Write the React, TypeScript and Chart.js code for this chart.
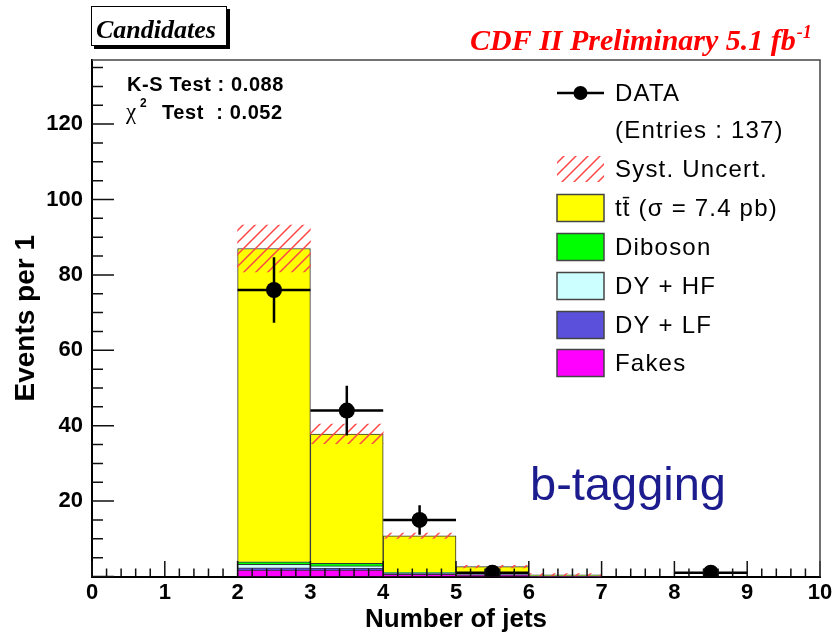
import React, { useEffect, useRef } from 'react';
import { Chart, registerables } from 'chart.js';

Chart.register(...registerables);

// Jet-multiplicity histogram: bins of width 1 from 0 to 10
const binWidth = 1;
const binCenters = [0.5, 1.5, 2.5, 3.5, 4.5, 5.5, 6.5, 7.5, 8.5, 9.5];

// Stacked background / signal expectations (events per bin), bottom to top
const fakes = [0, 0, 1.7, 1.7, 0.6, 0.3, 0.05, 0, 0, 0];
const dyLF = [0, 0, 0.6, 0.5, 0.2, 0.2, 0.05, 0, 0, 0];
const dyHF = [0, 0, 0.9, 0.6, 0.2, 0.2, 0.05, 0, 0, 0];
const diboson = [0, 0, 0.7, 0.7, 0.1, 0.15, 0.05, 0, 0, 0];
const ttbar = [0, 0, 83.1, 34.3, 9.7, 1.75, 0.25, 0, 0, 0];

// Systematic uncertainty on the total expectation (half-width of band)
const systUnc = [0, 0, 6.2, 2.6, 0.7, 0.35, 0.3, 0, 0, 0];

// Observed candidates with their statistical errors
const dataX = [2.5, 3.5, 4.5, 5.5, 8.5];
const dataY = [76, 44, 15, 1, 1];
const dataErr = [8.7, 6.6, 3.9, 1.0, 1.0];

const xTicks = [0, 1, 2, 3, 4, 5, 6, 7, 8, 9, 10];
const yTicks = [20, 40, 60, 80, 100, 120];

const COLORS = {
  ttbar: '#ffff00',
  diboson: '#00ff00',
  dyHF: '#ccffff',
  dyLF: '#5a50dc',
  fakes: '#ff00ff',
  hatch: 'rgb(255,70,70)',
  edge: '#333333',
};

const SANS = '"Liberation Sans", Arial, sans-serif';
const SERIF = '"Liberation Serif", "Times New Roman", serif';

function makeHatch(color: string): CanvasPattern | string {
  const c = document.createElement('canvas');
  c.width = 12;
  c.height = 12;
  const g = c.getContext('2d');
  if (!g) return color;
  g.strokeStyle = color;
  g.lineWidth = 1.5;
  g.beginPath();
  g.moveTo(0, 12);
  g.lineTo(12, 0);
  g.moveTo(-6, 6);
  g.lineTo(6, -6);
  g.moveTo(6, 18);
  g.lineTo(18, 6);
  g.stroke();
  return g.createPattern(c, 'repeat') || color;
}

function text(
  ctx: CanvasRenderingContext2D,
  s: string,
  x: number,
  y: number,
  font: string,
  color: string,
  spacing = 0,
  align: CanvasTextAlign = 'left',
  baseline: CanvasTextBaseline = 'alphabetic'
) {
  ctx.save();
  ctx.font = font;
  ctx.fillStyle = color;
  ctx.textAlign = align;
  ctx.textBaseline = baseline;
  (ctx as any).letterSpacing = spacing + 'px';
  ctx.fillText(s, x, y);
  const w = ctx.measureText(s).width;
  ctx.restore();
  return w;
}

export default function App() {
  const canvasRef = useRef<HTMLCanvasElement | null>(null);

  useEffect(() => {
    const canvas = canvasRef.current;
    if (!canvas) return;

    const hatch = makeHatch(COLORS.hatch);

    const totals = binCenters.map(
      (_, i) => fakes[i] + dyLF[i] + dyHF[i] + diboson[i] + ttbar[i]
    );
    const band = binCenters
      .map((x, i) => ({ x, y: [totals[i] - systUnc[i], totals[i] + systUnc[i]] }))
      .filter((_, i) => totals[i] > 0);

    const stackDs = (label: string, values: number[], color: string) => ({
      label,
      data: binCenters.map((x, i) => ({ x, y: values[i] > 0 ? values[i] : null })),
      backgroundColor: color,
      borderColor: COLORS.edge,
      borderWidth: 1,
      borderSkipped: 'start' as const,
      stack: 'mc',
      grouped: false,
      barPercentage: 1,
      categoryPercentage: 1,
      order: 2,
    });

    const decor = {
      id: 'cdfDecor',
      beforeDatasetDraw(chart: any, args: any) {
        if (args.index !== 0) return;
        const { ctx, scales } = chart;
        const xs = scales.x;
        const ys = scales.y;
        ctx.save();
        ctx.strokeStyle = '#000';
        ctx.lineWidth = 2.5;
        dataX.forEach((cx, i) => {
          const px = xs.getPixelForValue(cx);
          const py = ys.getPixelForValue(dataY[i]);
          ctx.beginPath();
          ctx.moveTo(xs.getPixelForValue(cx - binWidth / 2), py);
          ctx.lineTo(xs.getPixelForValue(cx + binWidth / 2), py);
          ctx.moveTo(px, ys.getPixelForValue(Math.max(0, dataY[i] - dataErr[i])));
          ctx.lineTo(px, ys.getPixelForValue(dataY[i] + dataErr[i]));
          ctx.stroke();
        });
        ctx.restore();
      },
      afterDatasetsDraw(chart: any) {
        const { ctx, chartArea, scales } = chart;
        const xs = scales.x;
        const ys = scales.y;
        ctx.save();
        ctx.strokeStyle = '#111';
        ctx.lineWidth = 1.5;
        ctx.beginPath();
        // x-axis tick marks (major every 1, minor every 0.2), pointing inward
        for (let k = 0; k <= 50; k++) {
          const v = k * 0.2;
          const major = k % 5 === 0;
          const px = xs.getPixelForValue(v);
          ctx.moveTo(px, chartArea.bottom);
          ctx.lineTo(px, chartArea.bottom - (major ? 15.5 : 8));
        }
        // y-axis tick marks (major every 20, minor every 5)
        for (let v = 0; v <= ys.max; v += 5) {
          const major = v % 20 === 0;
          const py = ys.getPixelForValue(v);
          ctx.moveTo(chartArea.left, py);
          ctx.lineTo(chartArea.left + (major ? 22 : 11), py);
        }
        ctx.stroke();
        // frame top and right
        ctx.strokeStyle = '#444';
        ctx.lineWidth = 1.5;
        ctx.beginPath();
        ctx.moveTo(chartArea.left, chartArea.top);
        ctx.lineTo(chartArea.right, chartArea.top);
        ctx.lineTo(chartArea.right, chartArea.bottom);
        ctx.stroke();
        ctx.restore();
      },
      afterDraw(chart: any) {
        const { ctx } = chart;

        // "Candidates" label box with drop shadow
        ctx.save();
        ctx.fillStyle = '#000';
        ctx.fillRect(94, 9, 136, 40);
        ctx.fillStyle = '#fff';
        ctx.fillRect(91, 6, 136, 40);
        ctx.strokeStyle = '#000';
        ctx.lineWidth = 1;
        ctx.strokeRect(91.5, 6.5, 135, 39);
        ctx.restore();
        text(ctx, 'Candidates', 96, 38, `bold italic 26px ${SERIF}`, '#000');

        // Experiment header
        const w = text(ctx, 'CDF II Preliminary 5.1 fb', 470, 50, `bold italic 30px ${SERIF}`, '#ff0000');
        text(ctx, '-1', 470 + w + 1, 38, `bold italic 18px ${SERIF}`, '#ff0000');

        // Goodness-of-fit results
        text(ctx, 'K-S Test : 0.088', 127, 91, `bold 20px ${SANS}`, '#000', 0.6);
        text(ctx, 'χ', 126, 119, `23px ${SERIF}`, '#000');
        text(ctx, '2', 140, 107, `bold 12px ${SANS}`, '#000');
        text(ctx, 'Test  : 0.052', 162, 119, `bold 20px ${SANS}`, '#000', 0.6);

        // Legend
        const lx0 = 557;
        const lx1 = 604;
        const tx = 615;
        const lf = `24px ${SANS}`;
        ctx.save();
        ctx.strokeStyle = '#000';
        ctx.lineWidth = 2.5;
        ctx.beginPath();
        ctx.moveTo(lx0, 93);
        ctx.lineTo(lx1, 93);
        ctx.stroke();
        ctx.fillStyle = '#000';
        ctx.beginPath();
        ctx.arc((lx0 + lx1) / 2, 93, 7, 0, Math.PI * 2);
        ctx.fill();
        ctx.fillStyle = hatch;
        ctx.fillRect(lx0, 156, lx1 - lx0, 26);
        const boxes: [string, number][] = [
          [COLORS.ttbar, 208],
          [COLORS.diboson, 247],
          [COLORS.dyHF, 286],
          [COLORS.dyLF, 325],
          [COLORS.fakes, 363],
        ];
        boxes.forEach(([c, cy]) => {
          ctx.fillStyle = c;
          ctx.fillRect(lx0, cy - 13.5, lx1 - lx0, 27);
          ctx.strokeStyle = '#444';
          ctx.lineWidth = 1.5;
          ctx.strokeRect(lx0, cy - 13.5, lx1 - lx0, 27);
        });
        ctx.restore();
        const rows: [string, number][] = [
          ['DATA', 93],
          ['(Entries : 137)', 130],
          ['Syst. Uncert.', 169],
          ['tt̄ (σ = 7.4 pb)', 208],
          ['Diboson', 247],
          ['DY + HF', 286],
          ['DY + LF', 325],
          ['Fakes', 363],
        ];
        rows.forEach(([s, cy]) => text(ctx, s, tx, cy + 1, lf, '#000', 1.2, 'left', 'middle'));

        // Selection tag
        text(ctx, 'b-tagging', 530, 500, `47px ${SANS}`, '#1c1c8e');
      },
    };

    const chart = new Chart(canvas, {
      type: 'bar',
      data: {
        datasets: [
          {
            type: 'line',
            label: 'DATA',
            data: dataX.map((x, i) => ({ x, y: dataY[i] })),
            showLine: false,
            pointRadius: 8,
            pointHoverRadius: 8,
            pointBackgroundColor: '#000',
            pointBorderColor: '#000',
            pointBorderWidth: 0,
            order: 0,
          } as any,
          {
            label: 'Syst. Uncert.',
            data: band,
            backgroundColor: hatch,
            borderWidth: 0,
            stack: 'syst',
            grouped: false,
            barPercentage: 1,
            categoryPercentage: 1,
            order: 1,
          } as any,
          stackDs('Fakes', fakes, COLORS.fakes),
          stackDs('DY + LF', dyLF, COLORS.dyLF),
          stackDs('DY + HF', dyHF, COLORS.dyHF),
          stackDs('Diboson', diboson, COLORS.diboson),
          stackDs('tt̄ (σ = 7.4 pb)', ttbar, COLORS.ttbar),
        ] as any,
      },
      options: {
        responsive: false,
        animation: false,
        devicePixelRatio: 1,
        layout: { padding: { top: 60, right: 16, left: 0, bottom: 0 } },
        plugins: {
          legend: { display: false },
          tooltip: { enabled: false },
          title: { display: false },
        },
        scales: {
          x: {
            type: 'linear',
            min: 0,
            max: 10,
            offset: false,
            grid: { display: false, drawTicks: false, offset: false },
            border: { display: true, color: '#000', width: 2 },
            afterBuildTicks: (s: any) => {
              s.ticks = xTicks.map((v) => ({ value: v }));
            },
            ticks: {
              font: { family: SANS, weight: 'bold', size: 22 },
              color: '#000',
              padding: 3,
              maxRotation: 0,
              autoSkip: false,
            },
            title: {
              display: true,
              text: 'Number of jets',
              font: { family: SANS, weight: 'bold', size: 26 },
              color: '#000',
              padding: { top: 0, bottom: -1 },
            },
            afterFit: (s: any) => {
              s.height = 57.5;
            },
          },
          y: {
            type: 'linear',
            min: 0,
            max: 137,
            stacked: true,
            grid: { display: false, drawTicks: false },
            border: { display: true, color: '#000', width: 2 },
            afterBuildTicks: (s: any) => {
              s.ticks = yTicks.map((v) => ({ value: v }));
            },
            ticks: {
              font: { family: SANS, weight: 'bold', size: 22 },
              color: '#000',
              padding: 9,
            },
            title: {
              display: true,
              text: 'Events per 1',
              font: { family: SANS, weight: 'bold', size: 28 },
              color: '#000',
              padding: { top: 9, bottom: 0 },
            },
            afterFit: (s: any) => {
              s.width = 92;
            },
          },
        },
      } as any,
      plugins: [decor],
    });

    return () => chart.destroy();
  }, []);

  return (
    <div style={{ position: 'fixed', left: 0, top: 0, width: 836, height: 634, background: '#fff' }}>
      <canvas ref={canvasRef} width={836} height={634} style={{ width: 836, height: 634, display: 'block' }} />
    </div>
  );
}
